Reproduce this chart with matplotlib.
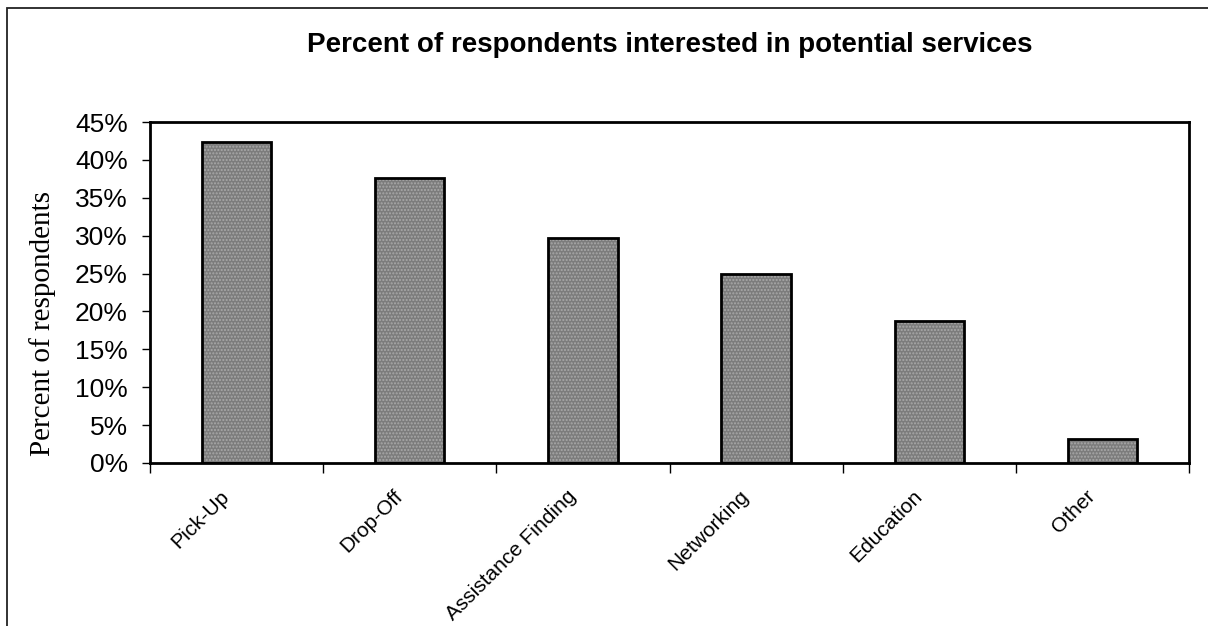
import numpy as np
import matplotlib.pyplot as plt
from matplotlib.patches import Rectangle
from matplotlib.ticker import FuncFormatter
from matplotlib.transforms import ScaledTranslation

services = ["Pick-Up", "Drop-Off", "Assistance Finding", "Networking", "Education", "Other"]
percent_interested = [42.3, 37.6, 29.7, 25.0, 18.7, 3.2]

plt.rcParams['font.family'] = ['Liberation Sans', 'DejaVu Sans']
plt.rcParams['hatch.linewidth'] = 1.0

fig = plt.figure(figsize=(12.08, 6.26), dpi=100)
ax = fig.add_axes([150 / 1208, 1 - 463 / 626, 1039 / 1208, 341 / 626])

x = np.arange(len(services))
# grey dotted fill, then the black outline on top
ax.bar(x, percent_interested, width=0.4, color='#7c7c7c', edgecolor='#a9a9a9',
       hatch='.....', linewidth=0, zorder=2)
ax.bar(x, percent_interested, width=0.4, color='none', edgecolor='black',
       linewidth=2, zorder=3)

ax.set_xlim(-0.5, len(services) - 0.5)
ax.set_ylim(0, 45)
ax.set_yticks(np.arange(0, 46, 5))
ax.yaxis.set_major_formatter(FuncFormatter(lambda v, p: f"{v:.0f}%"))
ax.tick_params(axis='y', labelsize=19, length=6, width=1, direction='out', pad=10)

# ticks between categories, labels at centres
ax.set_xticks(np.arange(-0.5, len(services), 1.0))
ax.set_xticklabels([])
ax.set_xticks(x, minor=True)
ax.set_xticklabels(services, minor=True, rotation=45, ha='right', va='center',
                   rotation_mode='anchor', fontsize=15)
ax.tick_params(axis='x', which='major', length=7, width=1, direction='out')
ax.tick_params(axis='x', which='minor', length=0, pad=22)
shift = ScaledTranslation(-0.1, 0, fig.dpi_scale_trans)
for lbl in ax.get_xticklabels(minor=True):
    lbl.set_transform(lbl.get_transform() + shift)

for s in ax.spines.values():
    s.set_linewidth(2)

fig.text(670 / 1208, 1 - 45 / 626, "Percent of respondents interested in potential services",
         ha='center', va='center', fontsize=20, fontweight='bold')
fig.text(43 / 1208, 1 - 324 / 626, "Percent of respondents", rotation=90,
         ha='center', va='center', fontsize=21, family=['Liberation Serif', 'DejaVu Serif'])

# outer chart frame
fig.patches.append(Rectangle((7 / 1208, -0.05), 1.2, 1.05 - 8 / 626,
                             transform=fig.transFigure, fill=False,
                             edgecolor='#222222', linewidth=1.3))

fig.savefig("out.png", dpi=100, facecolor='white')
